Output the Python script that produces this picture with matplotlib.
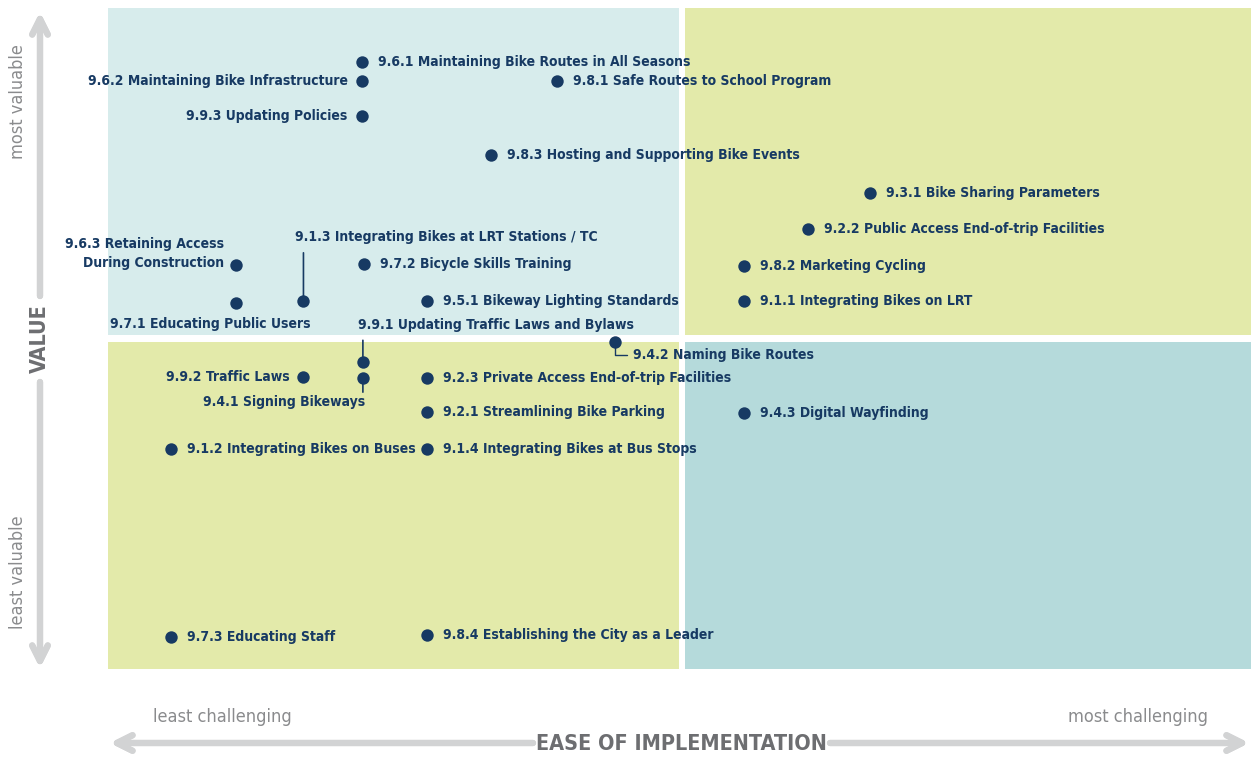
import matplotlib
matplotlib.use("Agg")
import matplotlib.pyplot as plt
from matplotlib.patches import Rectangle

# ---- data (ease 0-100 = least -> most challenging, value 0-100 = least -> most valuable)
labels = [
    "9.6.1 Maintaining Bike Routes in All Seasons",
    "9.6.2 Maintaining Bike Infrastructure",
    "9.8.1 Safe Routes to School Program",
    "9.9.3 Updating Policies",
    "9.8.3 Hosting and Supporting Bike Events",
    "9.3.1 Bike Sharing Parameters",
    "9.2.2 Public Access End-of-trip Facilities",
    "9.6.3 Retaining Access\nDuring Construction",
    "9.7.2 Bicycle Skills Training",
    "9.8.2 Marketing Cycling",
    "9.1.3 Integrating Bikes at LRT Stations / TC",
    "9.7.1 Educating Public Users",
    "9.5.1 Bikeway Lighting Standards",
    "9.1.1 Integrating Bikes on LRT",
    "9.9.1 Updating Traffic Laws and Bylaws",
    "9.4.2 Naming Bike Routes",
    "9.9.2 Traffic Laws",
    "9.4.1 Signing Bikeways",
    "9.2.3 Private Access End-of-trip Facilities",
    "9.2.1 Streamlining Bike Parking",
    "9.4.3 Digital Wayfinding",
    "9.1.2 Integrating Bikes on Buses",
    "9.1.4 Integrating Bikes at Bus Stops",
    "9.7.3 Educating Staff",
    "9.8.4 Establishing the City as a Leader",
]
ease = [22.2, 22.2, 39.3, 22.2, 33.5, 66.7, 61.2, 11.2, 22.4, 55.6, 17.1, 11.2,
        27.9, 55.6, 22.3, 44.4, 17.1, 22.3, 27.9, 27.9, 55.6, 5.5, 27.9, 5.5, 27.9]
value = [91.8, 89.0, 89.0, 83.7, 77.8, 72.0, 66.6, 61.1, 61.3, 61.0, 55.7, 55.4,
         55.7, 55.7, 46.4, 49.5, 44.2, 44.0, 44.0, 38.9, 38.7, 33.3, 33.3, 4.8, 5.1]

# label placement: (dx px, dy px, ha)  default is right of the dot
place = {
    1: (-14, 0, "right"),
    3: (-14, 0, "right"),
    7: (-12, 12, "right"),
    10: (-8, 64, "left"),
    11: (75, -21, "right"),
    14: (-5, 37, "left"),
    15: (18, -13, "left"),
    16: (-14, 0, "right"),
    17: (2, -24, "right"),
}
# straight leader lines: point index -> vertical length in px
leaders = {10: 48, 14: 22, 17: -14}

NAVY = "#173a63"
GREY = "#d2d3d4"
GREY_TXT = "#8a8b8d"
FONT = ["DejaVu Sans"]
txt = dict(family=FONT, fontstretch="condensed")

fig = plt.figure(figsize=(12.51, 7.57), dpi=100)
W, H = 1251, 757
ax = fig.add_axes([108 / W, 1 - 669 / H, 1 - 108 / W, 661 / H])
ax.set_xlim(0, 100)
ax.set_ylim(0, 100)
ax.axis("off")

# quadrants
mx, my, g = 50.2, 50.0, 0.27
quads = [
    (0, my + 0.5, mx - g, 100, "#d7ecec"),
    (mx + g, my + 0.5, 100, 100, "#e3eaaa"),
    (0, 0, mx - g, my - 0.5, "#e3eaaa"),
    (mx + g, 0, 100, my - 0.5, "#b5dadb"),
]
for x0, y0, x1, y1, c in quads:
    ax.add_patch(Rectangle((x0, y0), x1 - x0, y1 - y0, color=c, lw=0, zorder=0))

ax.scatter(ease, value, s=80, color=NAVY, zorder=3, lw=0)

for i, lab in enumerate(labels):
    dx, dy, ha = place.get(i, (16, 0, "left"))
    ax.annotate(lab, (ease[i], value[i]), xytext=(dx, dy), textcoords="offset pixels",
                ha=ha, va="center", multialignment=ha, fontsize=10, color=NAVY,
                weight="bold", linespacing=1.45, zorder=4, **txt)

for i, length in leaders.items():
    ax.annotate("", (ease[i], value[i]), xytext=(0, length), textcoords="offset pixels",
                arrowprops=dict(arrowstyle="-", color=NAVY, lw=1.2, shrinkA=0, shrinkB=0))
# elbow leader for 9.4.2
ax.annotate("", (ease[15], value[15]), xytext=(12, -13), textcoords="offset pixels",
            arrowprops=dict(arrowstyle="-", color=NAVY, lw=1.0, shrinkA=0, shrinkB=0,
                            connectionstyle="angle,angleA=0,angleB=90,rad=0"))


def fp(x, y):
    return (x / W, 1 - y / H)


arrow = dict(arrowstyle="->", color=GREY, lw=4.5, mutation_scale=28, shrinkA=0, shrinkB=0)
# value axis
fig.add_artist(plt.annotate("", fp(40, 12), xytext=fp(40, 296), xycoords="figure fraction",
                            arrowprops=arrow))
fig.add_artist(plt.annotate("", fp(40, 668), xytext=fp(40, 382), xycoords="figure fraction",
                            arrowprops=arrow))
fig.text(*fp(40, 339), "VALUE", rotation=90, ha="center", va="center", fontsize=15.5,
         color="#6d6e71", weight="bold", **txt)
fig.text(*fp(18, 102), "most valuable", rotation=90, ha="center", va="center",
         fontsize=13, color=GREY_TXT, **txt)
fig.text(*fp(18, 572), "least valuable", rotation=90, ha="center", va="center",
         fontsize=13, color=GREY_TXT, **txt)

# ease axis
fig.add_artist(plt.annotate("", fp(110, 743), xytext=fp(533, 743), xycoords="figure fraction",
                            arrowprops=arrow))
fig.add_artist(plt.annotate("", fp(1249, 743), xytext=fp(830, 743), xycoords="figure fraction",
                            arrowprops=arrow))
fig.text(*fp(681, 744), "EASE OF IMPLEMENTATION", ha="center", va="center", fontsize=15.5,
         color="#6d6e71", weight="bold", **txt)
fig.text(*fp(222, 717), "least challenging", ha="center", va="center",
         fontsize=13, color=GREY_TXT, **txt)
fig.text(*fp(1138, 717), "most challenging", ha="center", va="center",
         fontsize=13, color=GREY_TXT, **txt)

fig.savefig("out.png", dpi=100, facecolor="white")
